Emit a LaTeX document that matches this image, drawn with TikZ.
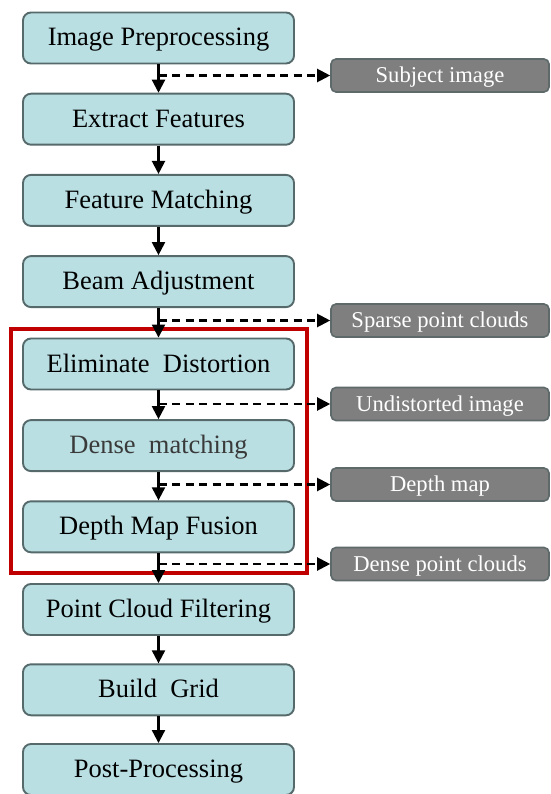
\documentclass[tikz,border=0pt]{standalone}
\usepackage{fontspec}
\setmainfont{Liberation Serif}
\usetikzlibrary{arrows.meta,calc}
\definecolor{boxfill}{HTML}{B9DFE3}
\definecolor{boxdraw}{HTML}{56696B}
\definecolor{grayfill}{HTML}{7F7F7F}
\definecolor{graydraw}{HTML}{5E6A6A}
\definecolor{redframe}{HTML}{C00000}
\definecolor{softtext}{HTML}{3A3A3A}
\tikzset{
  mainbox/.style={draw=boxdraw, fill=boxfill, line width=1.9pt, rounded corners=8pt,
    minimum width=271pt, minimum height=51pt, inner sep=0pt,
    text height=18pt, text depth=2pt,
    font=\fontsize{26.5}{30}\selectfont, text=black},
  graybox/.style={draw=graydraw, fill=grayfill, line width=1.6pt, rounded corners=5pt,
    minimum width=218pt, minimum height=33pt, inner sep=0pt,
    text height=15pt, text depth=0.5pt,
    font=\fontsize{22.6}{26}\selectfont, text=white},
  flowarrow/.style={line width=2.1pt, draw=black, -{Triangle[width=13pt,length=13pt]}},
  dasharrow/.style={line width=2.1pt, draw=black, dash pattern=on 8pt off 5.5pt,
    -{Triangle[width=13pt,length=13pt]}},
  frame/.style={draw=redframe, line width=4pt}
}
\begin{document}
\begin{tikzpicture}[x=1pt,y=-1pt]
\useasboundingbox (0,0) rectangle (550,794);
\fill[white] (0,0) rectangle (550,794);
% main boxes
\node[mainbox] (m1) at (158.5,38.0) {Image Preprocessing};
\node[mainbox] (m2) at (158.5,119.2) {Extract Features};
\node[mainbox] (m3) at (158.5,200.4) {Feature Matching};
\node[mainbox] (m4) at (158.5,281.6) {Beam Adjustment};
\node[mainbox] (m5) at (158.5,364.0) {Eliminate\ \ Distortion};
\node[mainbox, text=softtext] (m6) at (158.5,445.6) {Dense\ \ matching};
\node[mainbox] (m7) at (158.5,526.8) {Depth Map Fusion};
\node[mainbox] (m8) at (158.5,609.5) {Point Cloud Filtering};
\node[mainbox] (m9) at (158.5,689.8) {Build\ \ Grid};
\node[mainbox] (m10) at (158.5,769.5) {Post-Processing};
% red frame
\node[frame, minimum width=296pt, minimum height=244pt, inner sep=0pt] (fr) at (159,451) {};
% gray output boxes
\node[graybox] (g1) at (440,75.5) {Subject image};
\node[graybox] (g2) at (440,320.5) {Sparse point clouds};
\node[graybox] (g3) at (440,404) {Undistorted image};
\node[graybox] (g4) at (440,484.5) {Depth map};
\node[graybox] (g5) at (440,564) {Dense point clouds};
% flow arrows
\foreach \a/\b in {m1/m2,m2/m3,m3/m4,m4/m5,m5/m6,m6/m7,m7/m8,m8/m9,m9/m10}
  \draw[flowarrow] (\a.south) -- (\b.north);
% dashed outputs
\draw[dasharrow] (m1.south |- g1.west) -- (g1.west);
\draw[dasharrow] (m4.south |- g2.west) -- (g2.west);
\draw[dasharrow] (m5.south |- g3.west) -- (g3.west);
\draw[dasharrow] (m6.south |- g4.west) -- (g4.west);
\draw[dasharrow] (m7.south |- g5.west) -- (g5.west);
\end{tikzpicture}
\end{document}
